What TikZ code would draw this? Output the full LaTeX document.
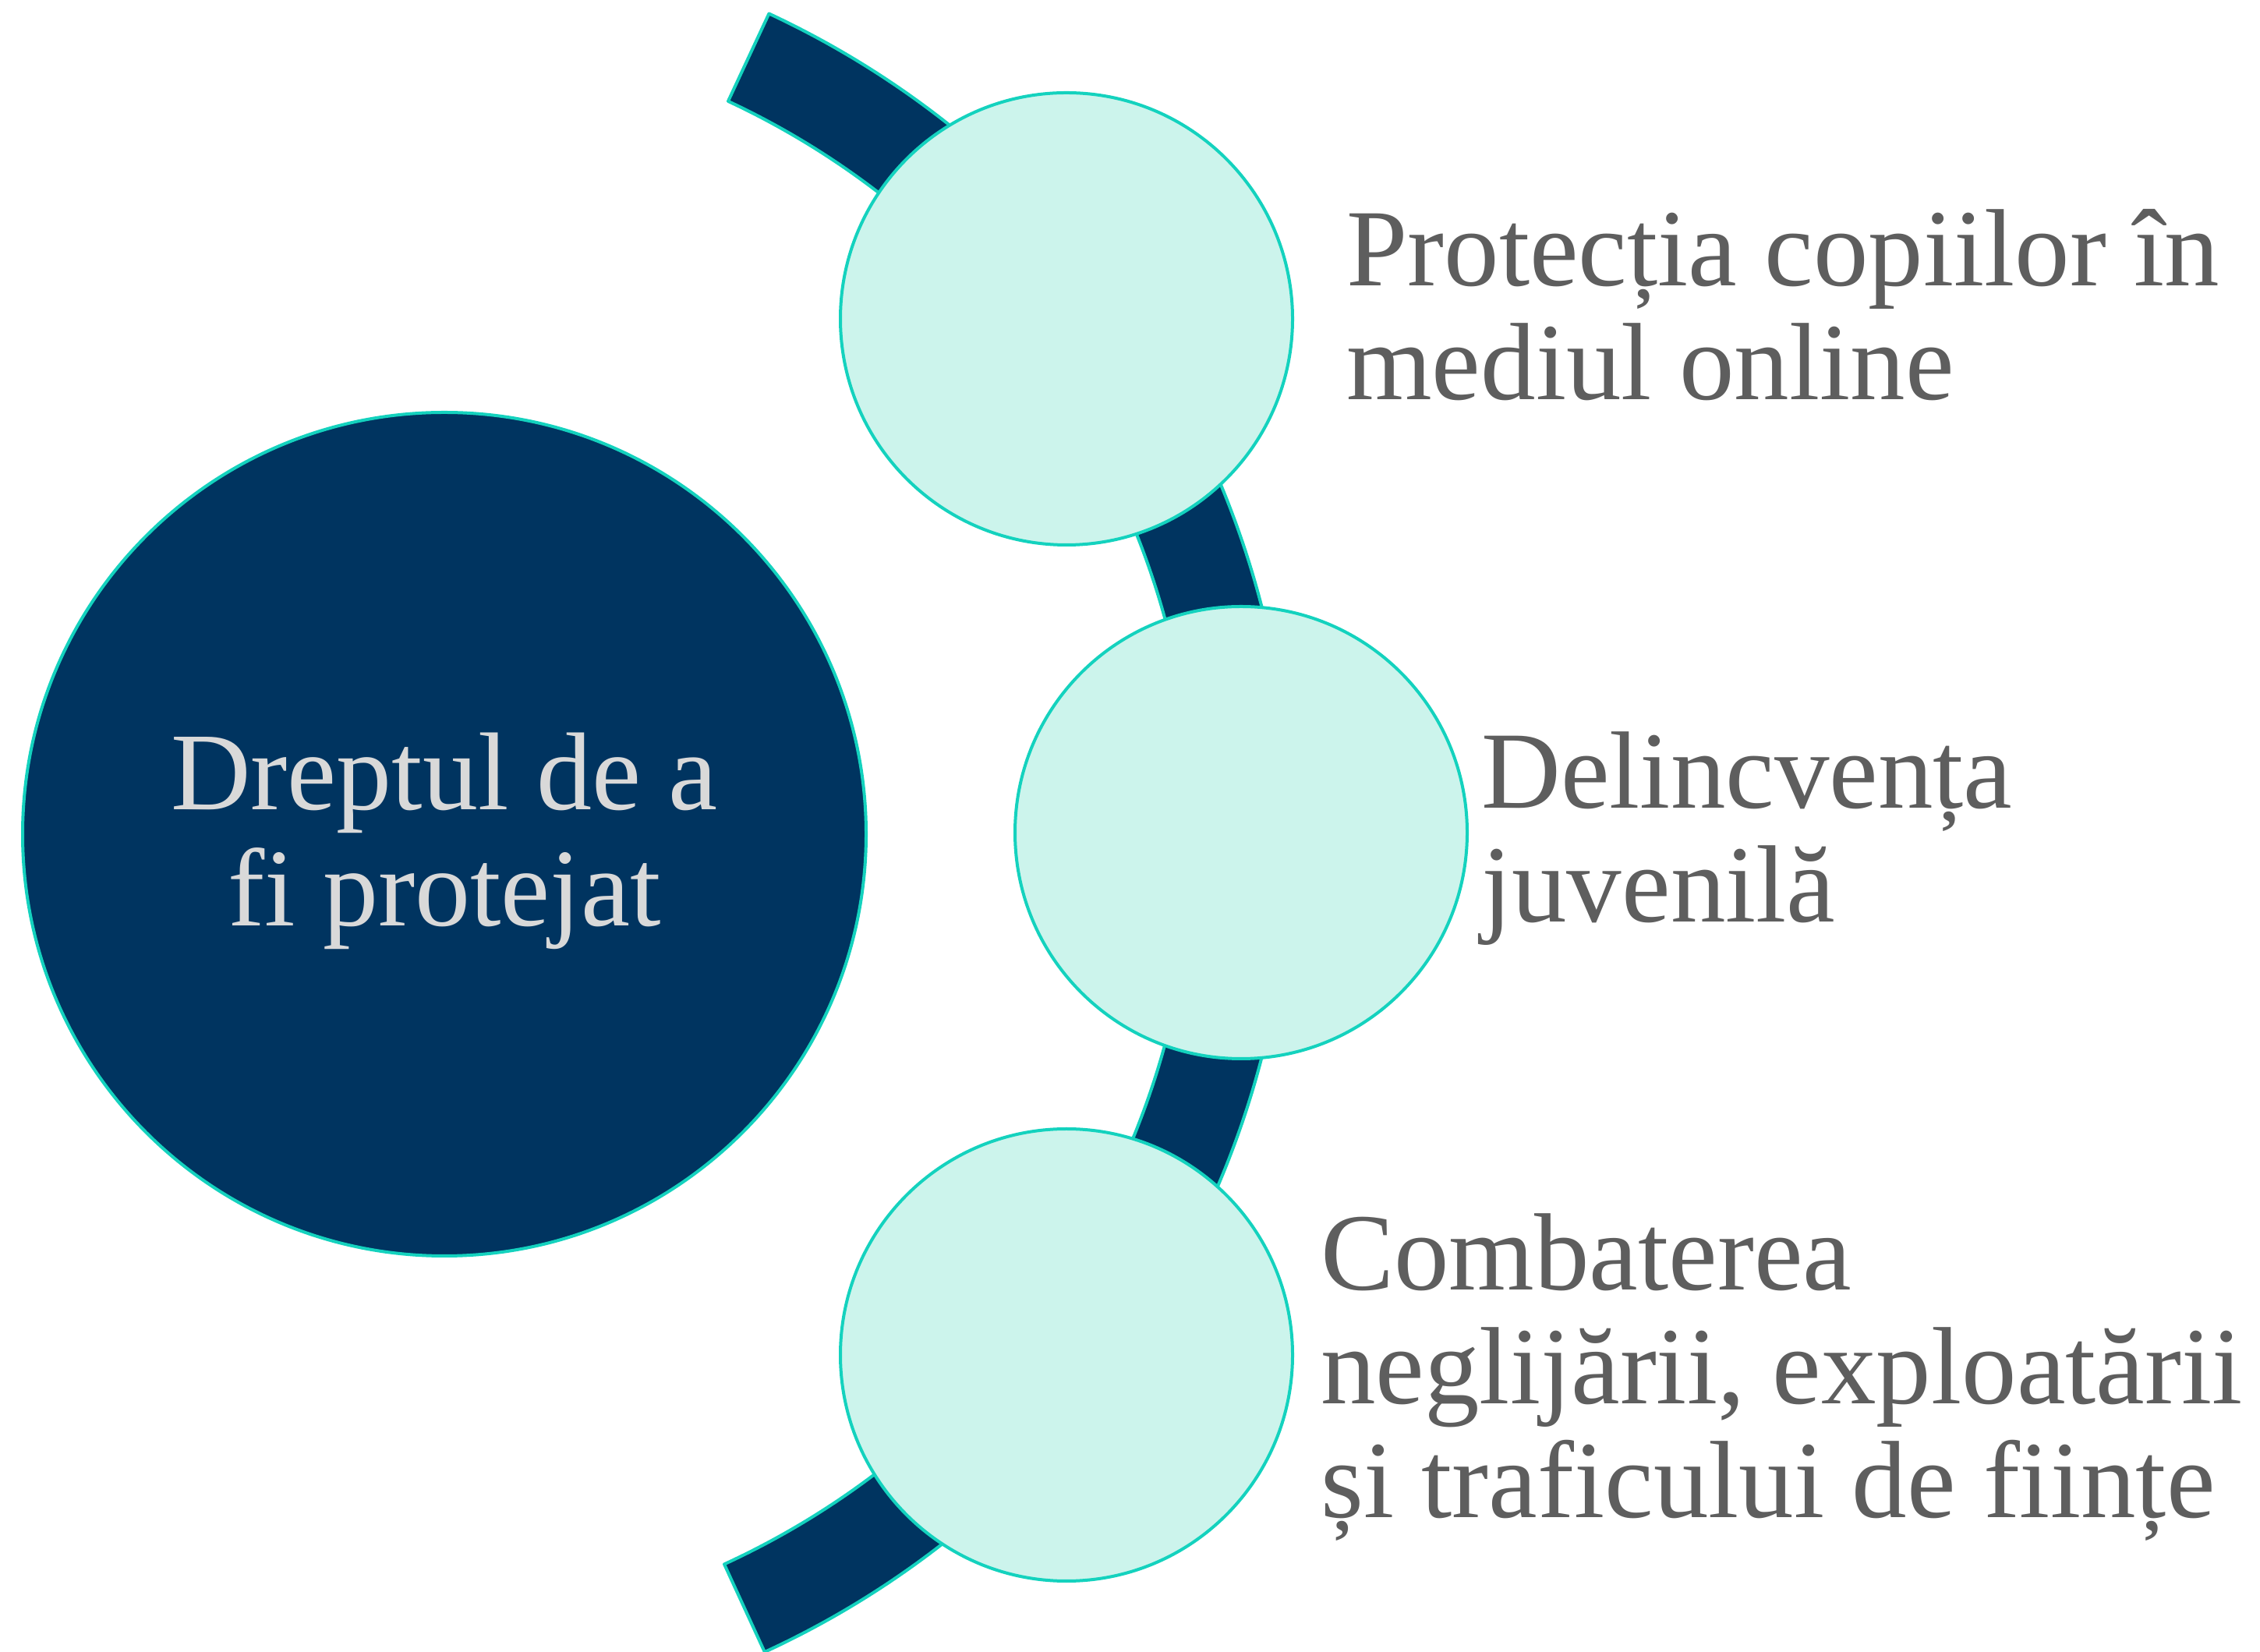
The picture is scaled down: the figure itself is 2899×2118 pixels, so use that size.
\documentclass[tikz,border=0pt]{standalone}
\usepackage{fontspec}
\setmainfont{Liberation Serif}
\definecolor{navy}{HTML}{003460}
\definecolor{tealline}{HTML}{14D2BE}
\definecolor{lightfill}{HTML}{CCF4EC}
\definecolor{textgray}{HTML}{5E5E5E}
\definecolor{lighttext}{HTML}{D9D9D9}
\protected\def\natsp{\spaceskip=0.25em\relax\xspaceskip=0.25em\relax}
\begin{document}
\begin{tikzpicture}[x=1pt,y=1pt,
  outline/.style={draw=tealline,line width=4pt,line join=round},
  bigcirc/.style={circle,outline,fill=navy,minimum size=1082pt,inner sep=0pt},
  smallcirc/.style={circle,outline,fill=lightfill,minimum size=580pt,inner sep=0pt},
  bigtxt/.style={text width=900pt,align=center,inner sep=0pt,text=lighttext,
     font=\fontsize{142}{149}\selectfont,execute at begin node=\natsp},
  sidetxt/.style={text width=1200pt,align=left,inner sep=0pt,text=textgray,
     font=\fontsize{141}{146}\selectfont,execute at begin node=\natsp}]
\useasboundingbox (0,0) rectangle (2899,2118);
% arc band
\coordinate (ac) at (497,1051);
\filldraw[outline,fill=navy]
  ([shift={(65:1158)}]ac) arc[start angle=65,end angle=-65.3,radius=1158]
  -- ([shift={(-65.3:1034)}]ac) arc[start angle=-65.3,end angle=65,radius=1034]
  -- cycle;
% circles
\node[bigcirc] (main) at (570,1048) {};
\node[smallcirc] (c1) at (1368,1709) {};
\node[smallcirc] (c2) at (1592,1050) {};
\node[smallcirc] (c3) at (1368,380) {};
% texts
\node[bigtxt,anchor=base] (mt) at (570,1079) {Dreptul de a\\fi protejat};
\node[sidetxt,anchor=base west] (t1) at (1727,1751) {Protecția copiilor în\\mediul online};
\node[sidetxt,anchor=base west] (t2) at (1900,1081) {Delincvența\\juvenilă};
\node[sidetxt,anchor=base west] (t3) at (1694,463) {Combaterea\\neglijării, exploatării\\și traficului de ființe};
\end{tikzpicture}
\end{document}
